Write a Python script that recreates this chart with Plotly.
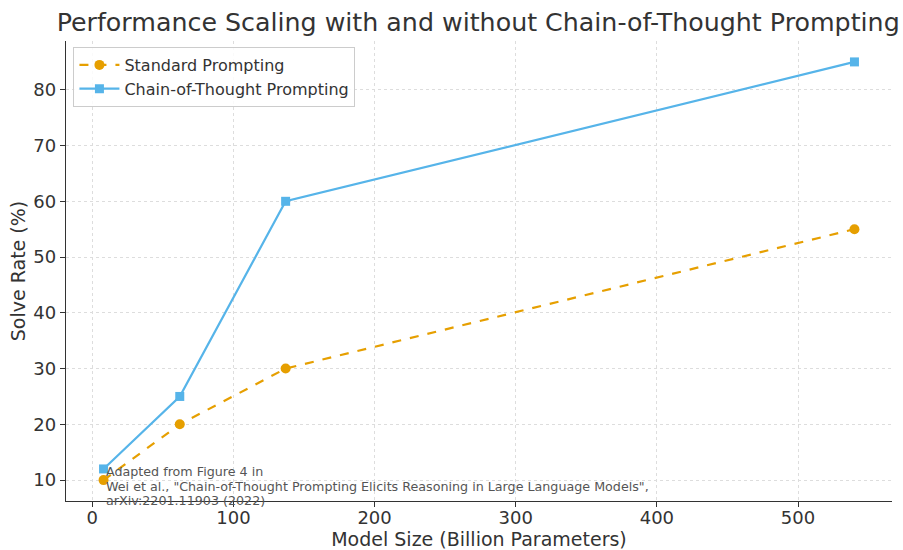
import plotly.graph_objects as go

model_size = [8, 62, 137, 540]
standard = [10, 20, 30, 55]
cot = [12, 25, 60, 85]
x_ticks = [0, 100, 200, 300, 400, 500]
y_ticks = [10, 20, 30, 40, 50, 60, 70, 80]
source_lines = [
    "Adapted from Figure 4 in",
    'Wei et al., "Chain-of-Thought Prompting Elicits Reasoning in Large Language Models",',
    "arXiv:2201.11903 (2022)",
]

FONT = "DejaVu Sans"
TXT = "#333333"

fig = go.Figure()
fig.add_trace(go.Scatter(
    x=model_size, y=standard, mode="lines+markers", name="Standard Prompting",
    line=dict(color="#E69F00", width=2.2, dash="dash"),
    marker=dict(symbol="circle", size=10, color="#E69F00")))
fig.add_trace(go.Scatter(
    x=model_size, y=cot, mode="lines+markers", name="Chain-of-Thought Prompting",
    line=dict(color="#56B4E9", width=2.2),
    marker=dict(symbol="square", size=9, color="#56B4E9")))

for i, line in enumerate(source_lines):
    fig.add_annotation(
        x=model_size[0], y=8.9, xref="x", yref="y", xanchor="left", yanchor="middle", align="left",
        showarrow=False, yshift=(1 - i) * 14.5, text=line,
        font=dict(family=FONT, size=12.7, color="#555555"))

axis_common = dict(
    showline=True, linecolor=TXT, linewidth=1.3, mirror=False,
    ticks="outside", ticklen=5, tickwidth=1.2, tickcolor=TXT,
    showgrid=True, gridcolor="#dddddd", gridwidth=1, griddash="dot",
    zeroline=False, automargin=False,
    tickfont=dict(family=FONT, size=18, color=TXT))

fig.update_xaxes(range=[-18.6, 566.6], tickvals=x_ticks, ticklabelstandoff=-5,
                 title=dict(text="Model Size (Billion Parameters)", font=dict(family=FONT, size=19, color=TXT), standoff=10),
                 **axis_common)
fig.update_yaxes(range=[6.25, 88.75], tickvals=y_ticks,
                 title=dict(text="Solve Rate (%)", font=dict(family=FONT, size=19, color=TXT), standoff=2),
                 **axis_common)

fig.update_layout(
    width=903, height=550,
    margin=dict(l=66, r=11, t=41, b=49),
    paper_bgcolor="white", plot_bgcolor="white",
    font=dict(family=FONT, color=TXT),
    title=dict(text="Performance Scaling with and without Chain-of-Thought Prompting",
               x=0.499, xref="paper", xanchor="center", y=1 - 22 / 550, yref="container", yanchor="middle",
               font=dict(family=FONT, size=25.3, color=TXT), automargin=False),
    legend=dict(x=0.009, y=0.987, xanchor="left", yanchor="top",
                bgcolor="rgba(255,255,255,0.85)", bordercolor="#cccccc", borderwidth=1,
                font=dict(family=FONT, size=16, color=TXT), itemwidth=40),
    showlegend=True,
)

fig.write_html("out.html", config={"displayModeBar": False})

# remove the default page margin so the figure sits at the window's top-left corner
with open("out.html", "r", encoding="utf-8") as f:
    html = f.read()
html = html.replace("<head>", "<head><style>html,body{margin:0;padding:0;overflow:hidden;}</style>", 1)
with open("out.html", "w", encoding="utf-8") as f:
    f.write(html)
